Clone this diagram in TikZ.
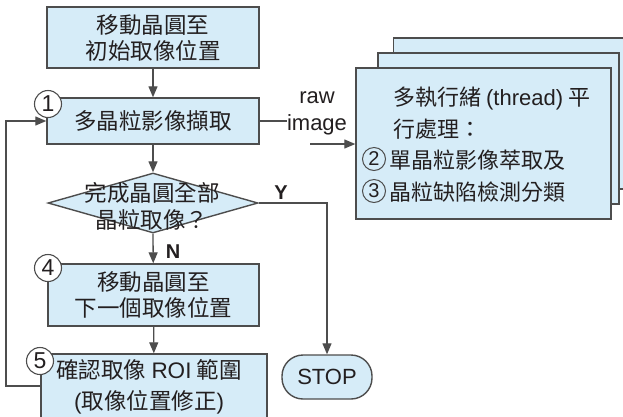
\documentclass[tikz,border=0pt]{standalone}
\usepackage{fontspec}
\setmainfont{Liberation Sans}
\newfontfamily\cjk{Noto Sans CJK TC}
\usetikzlibrary{arrows.meta,shapes.geometric}
\definecolor{boxfill}{HTML}{D6ECF8}
\definecolor{edgec}{HTML}{4D4D4D}
\definecolor{txtc}{HTML}{231F20}
\begin{document}
\begin{tikzpicture}[x=1pt,y=-1pt,
  box/.style={draw=edgec,fill=boxfill,line width=1.4pt,inner sep=0pt,align=center,
    text=txtc,font=\fontsize{22.5}{26}\selectfont\cjk},
  num/.style={circle,draw=edgec,fill=white,line width=1.1pt,minimum size=27pt,inner sep=0pt,
    text=txtc,font=\fontsize{23}{23}\selectfont},
  smallnum/.style={circle,draw=edgec,line width=1pt,minimum size=23pt,inner sep=0pt,
    text=txtc,font=\fontsize{20}{20}\selectfont},
  txtl/.style={anchor=west,inner sep=0pt,text=txtc,font=\fontsize{22}{26}\selectfont\cjk},
  yn/.style={inner sep=0pt,text=txtc,font=\fontsize{20}{20}\selectfont\bfseries},
  conn/.style={draw=edgec,line width=1.3pt},
  arrow/.style={conn,-{Triangle[length=11pt,width=9pt]}}]
\useasboundingbox[fill=white] (0,0) rectangle (623,416);

% stacked thread boxes
\node[box,minimum width=241pt,minimum height=151pt] (back) at (514,113.5) {};
\node[box,minimum width=241pt,minimum height=151pt] (mid) at (498.5,128.5) {};
\node[box,minimum width=255pt,minimum height=151pt] (front) at (483.5,143.5) {};
\node[txtl] (t1) at (393,98) {多執行緒 {\rmfamily (thread)} 平};
\node[txtl] (t2) at (393,129) {行處理：};
\node[txtl] (t3) at (389,160) {單晶粒影像萃取及};
\node[txtl] (t4) at (389,192) {晶粒缺陷檢測分類};
\node[smallnum] (c2) at (374,159) {2};
\node[smallnum] (c3) at (374,191) {3};

% flow boxes
\node[box,minimum width=212pt,minimum height=61pt] (b1) at (153,37.5) {移動晶圓至\\初始取像位置};
\node[box,minimum width=212pt,minimum height=46pt] (b2) at (153,121) {多晶粒影像擷取};
\node[draw=edgec,fill=boxfill,line width=1.4pt,diamond,minimum width=210pt,minimum height=60pt,inner sep=0pt] (dia) at (153,203) {};
\node[inner sep=0pt,align=center,text=txtc,font=\fontsize{22.5}{27}\selectfont\cjk] (diat) at (152,206) {完成晶圓全部\\晶粒取像？};
\node[box,minimum width=211pt,minimum height=62pt] (b4) at (153.5,295) {移動晶圓至\\下一個取像位置};
\node[box,minimum width=226pt,minimum height=64pt] (b5) at (154,386) {};
\node[inner sep=0pt,align=center,text=txtc,font=\fontsize{22.5}{31}\selectfont\cjk] (b5t) at (149,387) {確認取像 {\rmfamily ROI} 範圍\\{\rmfamily (}取像位置修正{\rmfamily )}};
\node[draw=edgec,fill=boxfill,line width=1.4pt,rounded corners=21pt,minimum width=90pt,minimum height=44pt,inner sep=0pt,text=txtc,font=\fontsize{22}{22}\selectfont] (stop) at (327,377) {STOP};

% circled step numbers
\node[num] (c1) at (48,104) {1};
\node[num] (c4) at (48,268) {4};
\node[num] (c5) at (40,361) {5};

% labels
\node[inner sep=0pt,align=center,text=txtc,font=\fontsize{22}{27}\selectfont] (raw) at (317,113) {raw\\image};
\node[yn] (ylab) at (281,193) {Y};
\node[yn] (nlab) at (173,252) {N};

% connectors
\draw[arrow] (b1) -- (b2);
\draw[arrow] (b2) -- (dia.north);
\draw[arrow] (dia.south) -- (b4);
\draw[arrow] (b4) -- (b5);
\draw[arrow] (dia.east) -| (stop.north);
\coordinate (loopx) at (6,0);
\draw[arrow] (b5.west) -- (b5.west -| loopx) |- (b2.west);
\draw[conn] (b2.east) -- (b2.east -| raw.west);
\coordinate (rawtail) at (310,144);
\draw[arrow] (rawtail) -- (rawtail -| front.west);
\end{tikzpicture}
\end{document}
